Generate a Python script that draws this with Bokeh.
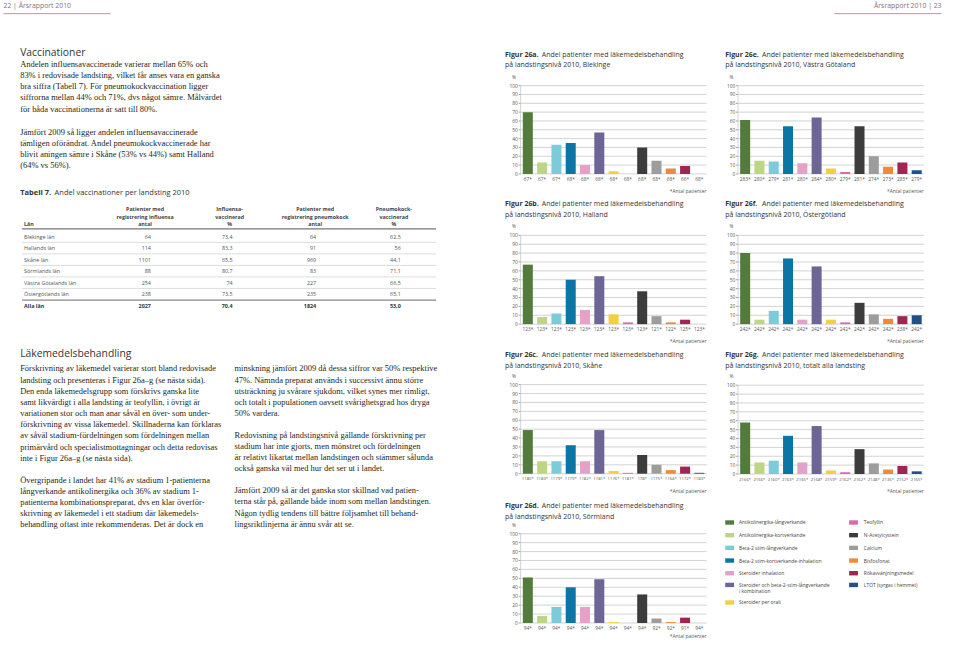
from bokeh.plotting import figure
from bokeh.models import Range1d
from bokeh.core.properties import value
from bokeh.embed import file_html
from bokeh.resources import INLINE

# ---------------- data ----------------
categories = ["Antikolinergika-långverkande", "Antikolinergika-kortverkande",
              "Beta-2 stim-långverkande", "Beta-2 stim-kortverkande-inhalation",
              "Steroider inhalation", "Steroider och beta-2-stim-långverkande i kombination",
              "Steroider per oralt", "Teofyllin", "N-Acetylcystein", "Calcium",
              "Bisfosfonat", "Rökavvänjningsmedel", "LTOT (syrgas i hemmet)"]
colors = ["#527b3c", "#bcd685", "#7ccbd9", "#0b76a6", "#e5a2c8", "#6c6596", "#f2d03f",
          "#d96ca6", "#3c3c3c", "#9d9d9d", "#ee8a3a", "#9e2650", "#1f5089"]

blekinge = [70, 13, 33, 35, 10, 47, 3, 0, 30, 15, 6, 9, 0]
blekinge_n = ["67*", "67*", "67*", "68*", "68*", "68*", "68*", "68*", "68*", "68*", "68*", "66*", "68*"]
halland = [67, 8, 12, 50, 16, 54, 11, 2, 37, 9, 2, 5, 0]
halland_n = ["123*"] * 9 + ["121*", "122*", "125*", "123*"]
skane = [49, 14, 14, 32, 14, 49, 3, 1, 21, 10, 4, 8, 1]
skane_n = ["1180*", "1183*", "1179*", "1179*", "1182*", "1181*", "1176*", "1181*", "178*",
           "1175*", "1164*", "1172*", "1183*"]
sormland = [51, 8, 18, 40, 18, 49, 1, 0, 32, 5, 1, 6, 0]
sormland_n = ["94*"] * 9 + ["92*", "92*", "91*", "94*"]
vgotaland = [61, 15, 14, 54, 12, 64, 6, 2, 54, 20, 8, 13, 4]
vgotaland_n = ["283*", "280*", "279*", "281*", "280*", "284*", "280*", "279*", "281*",
               "274*", "273*", "285*", "279*"]
ostergotland = [80, 5, 15, 74, 5, 65, 5, 2, 24, 11, 6, 9, 10]
ostergotland_n = ["242*"] * 11 + ["238*", "242*"]
totalt = [58, 13, 15, 43, 13, 54, 4, 2, 28, 12, 5, 9, 3]
totalt_n = ["2166*", "2166*", "2160*", "2163*", "2165*", "2168*", "2159*", "2162*", "2162*",
            "2148*", "2135*", "2152*", "2165*"]
y_ticks = [0, 10, 20, 30, 40, 50, 60, 70, 80, 90, 100]

lan = ["Blekinge län", "Hallands län", "Skåne län", "Sörmlands län",
       "Västra Götalands län", "Östergötlands län"]
infl_antal = ["64", "114", "1101", "88", "254", "238"]
infl_pct = ["73,4", "83,3", "65,5", "80,7", "74", "73,5"]
pneu_antal = ["64", "91", "969", "83", "227", "235"]
pneu_pct = ["62,5", "56", "44,1", "71,1", "66,5", "65,1"]
total_row = ["Alla län", "2027", "70,4", "1824", "53,0"]

para_vacc_1 = ["Andelen influensavaccinerade varierar mellan 65% och",
               "83% i redovisade landsting, vilket får anses vara en ganska",
               "bra siffra (Tabell 7). För pneumokockvaccination ligger",
               "siffrorna mellan 44% och 71%, dvs något sämre. Målvärdet",
               "för båda vaccinationerna är satt till 80%."]
para_vacc_2 = ["Jämfört 2009 så ligger andelen influensavaccinerade",
               "tämligen oförändrat. Andel pneumokockvaccinerade har",
               "blivit aningen sämre i Skåne (53% vs 44%) samt Halland",
               "(64% vs 56%)."]
para_lak_1 = ["Förskrivning av läkemedel varierar stort bland redovisade",
              "landsting och presenteras i Figur 26a–g (se nästa sida).",
              "Den enda läkemedelsgrupp som förskrivs ganska lite",
              "samt likvärdigt i alla landsting är teofyllin, i övrigt är",
              "variationen stor och man anar såväl en över- som under-",
              "förskrivning av vissa läkemedel. Skillnaderna kan förklaras",
              "av såväl stadium-fördelningen som fördelningen mellan",
              "primärvård och specialistmottagningar och detta redovisas",
              "inte i Figur 26a–g (se nästa sida)."]
para_lak_2 = ["Övergripande i landet har 41% av stadium 1-patienterna",
              "långverkande antikolinergika och 36% av stadium 1-",
              "patienterna kombinationspreparat, dvs en klar överför-",
              "skrivning av läkemedel i ett stadium där läkemedels-",
              "behandling oftast inte rekommenderas. Det är dock en"]
para_lak_3 = ["minskning jämfört 2009 då dessa siffror var 50% respektive",
              "47%. Nämnda preparat används i successivt ännu större",
              "utsträckning ju svårare sjukdom, vilket synes mer rimligt,",
              "och totalt i populationen oavsett svårighetsgrad hos dryga",
              "50% vardera."]
para_lak_4 = ["Redovisning på landstingsnivå gällande förskrivning per",
              "stadium har inte gjorts, men mönstret och fördelningen",
              "är relativt likartat mellan landstingen och stämmer sålunda",
              "också ganska väl med hur det ser ut i landet."]
para_lak_5 = ["Jämfört 2009 så är det ganska stor skillnad vad patien-",
              "terna står på, gällande både inom som mellan landstingen.",
              "Någon tydlig tendens till bättre följsamhet till behand-",
              "lingsriktlinjerna är ännu svår att se."]

# ---------------- canvas ----------------
W, H = 960, 658
PW, PH = 944, 642
FS = PW / W

p = figure(width=PW, height=PH, x_range=Range1d(0, W), y_range=Range1d(H, 0),
           output_backend="svg", toolbar_location=None, min_border=0,
           x_axis_location=None, y_axis_location=None)
p.outline_line_color = None
p.grid.visible = False

SANS = "Open Sans"
SERIF = "Liberation Serif"


def txt(x, y, t, size, font=SANS, color="#333333", align="left", style="normal",
        baseline="middle", **kw):
    if not isinstance(t, list):
        x, y, t = [x], [y], [t]
    p.text(x=x, y=y, text=t, text_font=value(font), text_font_size=value(f"{size * FS:.2f}px"),
           text_color=color, text_align=align, text_font_style=style,
           text_baseline=baseline, **kw)


def lines(x, y0, dy, ls, size=8.6, font=SERIF, color="#231f20"):
    txt([x] * len(ls), [y0 + i * dy for i in range(len(ls))], list(ls), size, font=font, color=color)


# header
HC = "#8e6d7b"
txt(3, 5, "22 | Årsrapport 2010", 7.0, color=HC)
txt(957, 5, "Årsrapport 2010 | 23", 7.0, color=HC, align="right")
p.segment(x0=[3, 848], x1=[112, 957], y0=[13.5, 13.5], y1=[13.5, 13.5], line_color="#b99aa6", line_width=1)

# left page texts
LH = 11.45
txt(20, 53, "Vaccinationer", 10.5, color="#333333")
lines(20, 65, LH, para_vacc_1)
lines(20, 134.5, LH, para_vacc_2)

txt(20, 196, "Tabell 7.", 7.6, style="bold")
txt(55, 196, "Andel vaccinationer per landsting 2010", 7.6)

# table
TC = "#555555"
hdr_x = [147, 233, 320, 400]
hdr = [["Patienter med", "registrering influensa", "antal"],
       ["Influensa-", "vaccinerad", "%"],
       ["Patienter med", "registrering pneumokock", "antal"],
       ["Pneumokock-", "vaccinerad", "%"]]
for cx, hl in zip(hdr_x, hdr):
    txt([cx] * 3, [214, 221.5, 229], hl, 5.4, color="#444444", align="center", style="bold")
txt(24, 229, "Län", 5.4, color="#444444", style="bold")
p.segment(x0=[22], x1=[443], y0=[234], y1=[234], line_color="#777777", line_width=1.2)
row_y = [242 + i * 11.8 for i in range(len(lan))]
txt([24] * len(lan), row_y, lan, 5.5, color=TC)
for rx, col in zip([153, 236, 321, 407], [infl_antal, infl_pct, pneu_antal, pneu_pct]):
    txt([rx] * len(col), row_y, col, 5.5, color=TC, align="right")
sep_y = [y + 5.9 for y in row_y[:-1]]
p.segment(x0=[22] * len(sep_y), x1=[443] * len(sep_y), y0=sep_y, y1=sep_y,
          line_color="#cfcfcf", line_width=0.7)
p.segment(x0=[22], x1=[443], y0=[307], y1=[307], line_color="#888888", line_width=1.2)
txt(24, 313, total_row[0], 5.5, color="#333333", style="bold")
txt([153, 236, 321, 407], [313] * 4, total_row[1:], 5.5, color="#333333", align="right", style="bold")

txt(20, 361, "Läkemedelsbehandling", 10.5, color="#333333")
lines(20, 377, LH, para_lak_1)
lines(20, 491, LH, para_lak_2)
lines(238, 377, LH, para_lak_3)
lines(238, 445, LH, para_lak_4)
lines(238, 502, LH, para_lak_5)


# ---------------- charts ----------------
def chart(key, vals, labels, fig_id, place, x_left, y0, y100, tx, ty, antal_y=-19):
    x_right = x_left + 189
    sx = 13 * W / (x_right - x_left)
    xs = -x_left / W * sx
    p.extra_x_ranges[key] = Range1d(xs, xs + sx)
    sy = 100 * H / (y0 - y100)
    ys = -(H - y0) / H * sy
    p.extra_y_ranges[key] = Range1d(ys, ys + sy)
    kw = dict(x_range_name=key, y_range_name=key)
    n = len(y_ticks)
    p.segment(x0=[0] * n, x1=[13] * n, y0=y_ticks, y1=y_ticks, line_color="#c8c8c8",
              line_width=0.8, **kw)
    p.segment(x0=[-0.14] * n, x1=[0] * n, y0=y_ticks, y1=y_ticks, line_color="#888888",
              line_width=0.8, **kw)
    p.segment(x0=[0], x1=[0], y0=[0], y1=[100], line_color="#c8c8c8", line_width=0.8, **kw)
    txt([-0.2] * n, y_ticks, [str(t) for t in y_ticks], 4.9, color="#555555", align="right", **kw)
    xc = [i + 0.5 for i in range(len(vals))]
    p.vbar(x=xc, top=vals, bottom=0, width=0.7, fill_color=colors, line_color=None, **kw)
    lab_size = 4.3 if max(len(s) for s in labels) >= 5 else 4.9
    txt(xc, [-5.3] * len(vals), labels, lab_size, color="#555555", align="center", **kw)
    txt(-0.6, 110, "%", 4.9, color="#555555", **kw)
    txt(13, antal_y, "*Antal patienter", 5.0, color="#555555", align="right", **kw)
    txt(tx, ty, f"Figur {fig_id}.", 7.1, style="bold")
    txt(tx + 37.5, ty, "Andel patienter med läkemedelsbehandling", 7.1)
    txt(tx, ty + 11, f"på landstingsnivå 2010, {place}", 7.1)


chart("a", blekinge, blekinge_n, "26a", "Blekinge", 529, 177.7, 87.3, 513, 55)
chart("b", halland, halland_n, "26b", "Halland", 529, 331.7, 240.7, 513, 208)
chart("c", skane, skane_n, "26c", "Skåne", 529, 485, 393.7, 513, 363)
chart("d", sormland, sormland_n, "26d", "Sörmland", 529, 638, 546.5, 513, 518, antal_y=-14.5)
chart("e", vgotaland, vgotaland_n, "26e", "Västra Götaland", 750, 177.7, 87.3, 737, 55)
chart("f", ostergotland, ostergotland_n, "26f", "Östergötland", 750, 331.7, 240.7, 737, 208)
chart("g", totalt, totalt_n, "26g", "totalt alla landsting", 750, 485.3, 394.3, 737, 363)

# ---------------- legend ----------------
leg_left_y = [535, 548, 561, 574, 587, 599, 617]
leg_right_y = [535, 548, 561, 574, 587, 599]
sw_x = [741.5] * 7 + [867.5] * 6
sw_y = leg_left_y + leg_right_y
p.rect(x=sw_x, y=sw_y, width=9, height=4.5, fill_color=colors, line_color=None)
leg_text = list(categories)
leg_text[5] = "Steroider och beta-2-stim-långverkande"
txt([751] * 7 + [878] * 6, sw_y, leg_text, 5.0, color="#444444")
txt(751, 605.5, "i kombination", 5.0, color="#444444")

open("out.html", "w").write(file_html(p, INLINE))
